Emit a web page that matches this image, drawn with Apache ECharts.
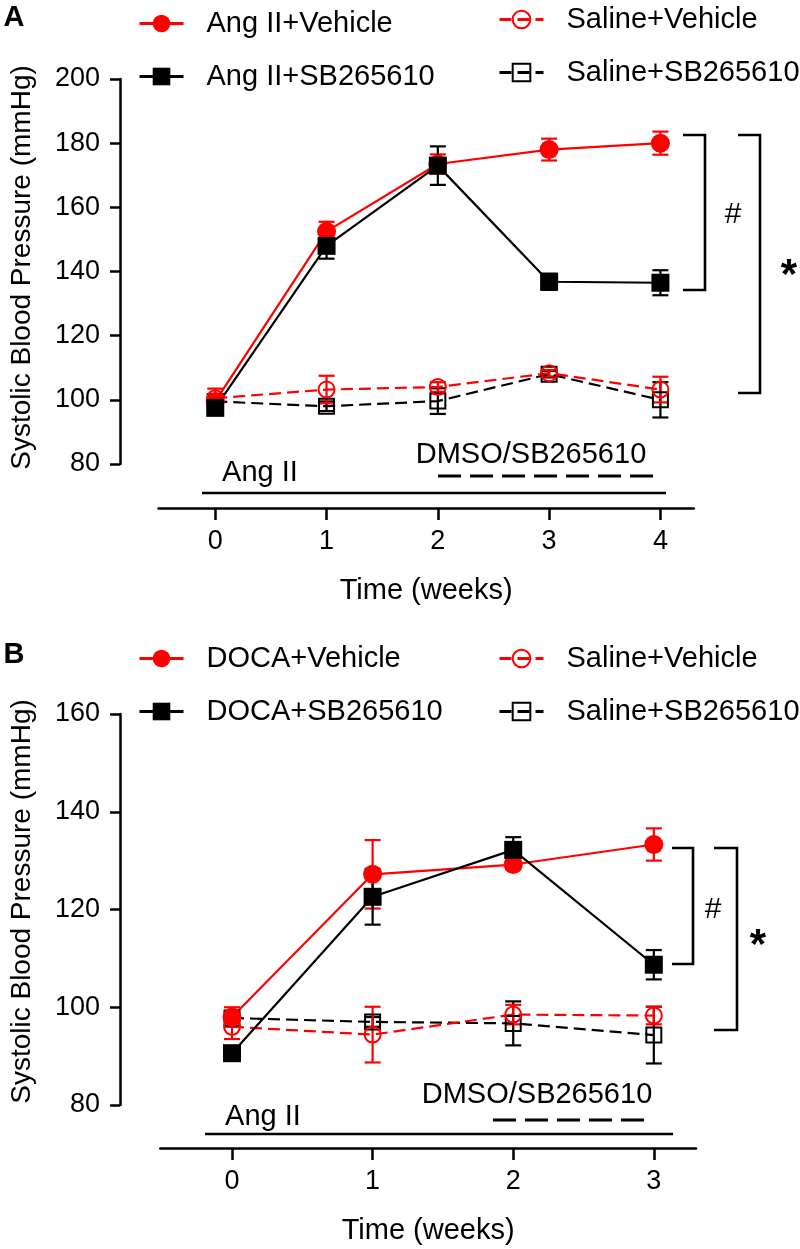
<!DOCTYPE html>
<html><head><meta charset="utf-8">
<script src="https://cdn.jsdelivr.net/npm/echarts@6/dist/echarts.min.js"></script>
<style>html,body{margin:0;padding:0;background:#fff}#c{width:800px;height:1249px}</style>
</head><body><div id="c"></div>
<script>
// ---------- Panel A data (Ang II model) ----------
const weeksA = [0, 1, 2, 3, 4];
const angVehA = [99.5, 152.5, 173.5, 178, 180];
const angVehErrA = [2, 3, 3, 3.4, 3.6];
const angSbA = [97.5, 148, 173, 136.8, 136.5];
const angSbErrA = [2, 4, 6, 2.5, 3.9];
const salVehA = [100.5, 103.2, 104, 108.3, 103.2];
const salVehErrA = [3, 4.3, 1.5, 1, 4];
const salSbA = [99.5, 98, 99.6, 108, 100];
const salSbErrA = [1.5, 1.5, 4, 1, 5.5];
const yTicksA = [80, 100, 120, 140, 160, 180, 200];

// ---------- Panel B data (DOCA model) ----------
const weeksB = [0, 1, 2, 3];
const docaVehB = [98, 127.2, 129.2, 133.3];
const docaVehErrB = [2, 7, 1, 3.3];
const docaSbB = [90.6, 122.6, 132.2, 108.7];
const docaSbErrB = [1, 5.7, 2.6, 3];
const salVehB = [96, 94.4, 98.5, 98.3];
const salVehErrB = [2.5, 5.7, 2, 1.8];
const salSbB = [97.8, 97, 96.7, 94.3];
const salSbErrB = [1, 1, 4.5, 5.8];
const yTicksB = [80, 100, 120, 140, 160];

const FONT = "'Liberation Sans', Arial, Helvetica, sans-serif";
const RED = '#ff0000', BLACK = '#000000';

function lineSeries(name, weeks, vals, idx, color, filled, symbol, size, dashed) {
  return {
    type: 'line', name: name, xAxisIndex: idx, yAxisIndex: idx,
    data: weeks.map((w, i) => [w, vals[i]]),
    symbol: symbol, symbolSize: size, z: 5,
    lineStyle: { color: color, width: 2.2, type: dashed ? [12, 6] : 'solid' },
    itemStyle: { color: filled ? color : 'rgba(255,255,255,0)', borderColor: color, borderWidth: filled ? 0 : 2 },
    emphasis: { disabled: true }, silent: true
  };
}
function errSeries(weeks, vals, errs, idx, color) {
  return {
    type: 'custom', xAxisIndex: idx, yAxisIndex: idx, z: 3, silent: true,
    data: weeks.map((w, i) => [w, vals[i] - errs[i], vals[i] + errs[i]]),
    encode: { x: 0, y: [1, 2] },
    renderItem: function (params, api) {
      const x = api.value(0);
      const lo = api.coord([x, api.value(1)]);
      const hi = api.coord([x, api.value(2)]);
      const w = 8;
      const st = { stroke: color, lineWidth: 2.2 };
      return { type: 'group', children: [
        { type: 'line', shape: { x1: lo[0], y1: lo[1], x2: hi[0], y2: hi[1] }, style: st },
        { type: 'line', shape: { x1: lo[0] - w, y1: lo[1], x2: lo[0] + w, y2: lo[1] }, style: st },
        { type: 'line', shape: { x1: hi[0] - w, y1: hi[1], x2: hi[0] + w, y2: hi[1] }, style: st }
      ]};
    }
  };
}

function xAxis(idx, weeks, min, max, offset) {
  return {
    gridIndex: idx, type: 'value', min: min, max: max, offset: offset,
    axisLine: { show: true, onZero: false, lineStyle: { color: '#000', width: 2.5 } },
    axisTick: { show: true, length: 12, lineStyle: { color: '#000', width: 2.5 }, customValues: weeks },
    axisLabel: { customValues: weeks, fontSize: 27, color: '#000', margin: 20, fontFamily: FONT },
    splitLine: { show: false },
    name: 'Time (weeks)', nameLocation: 'middle', nameGap: 68,
    nameTextStyle: { fontSize: 29, color: '#000', fontFamily: FONT }
  };
}
function yAxis(idx, ticks, offset, shift) {
  return {
    gridIndex: idx, type: 'value', min: ticks[0], max: ticks[ticks.length - 1], interval: 20, offset: offset,
    axisLine: { show: true, onZero: false, lineStyle: { color: '#000', width: 2.5 } },
    axisTick: { show: true, length: 10, lineStyle: { color: '#000', width: 2.5 } },
    axisLabel: { fontSize: 27, color: '#000', margin: 20, fontFamily: FONT },
    splitLine: { show: false },
    name: 'Systolic Blood Pressure (mmHg)', nameLocation: 'middle', nameGap: 84,
    nameTextStyle: { fontSize: 28, color: '#000', fontFamily: FONT, padding: [0, 0, 0, shift] }
  };
}

function legend(names, left, top) {
  return {
    data: names, orient: 'vertical', left: left, top: top,
    itemWidth: 44, itemHeight: 22, itemGap: 24, selectedMode: false,
    lineStyle: { width: 3 },
    textStyle: { fontSize: 29, color: '#000', fontFamily: FONT, padding: [0, 0, 0, 18] }
  };
}

function txt(s, x, y, size, bold) {
  return { type: 'text', x: x, y: y, silent: true,
    style: { text: s, font: (bold ? 'bold ' : '') + size + 'px ' + FONT, fill: '#000',
      align: 'center', verticalAlign: 'middle', textAlign: 'center', textVerticalAlign: 'middle' } };
}
function pline(pts, dash) {
  return { type: 'polyline', silent: true, shape: { points: pts },
    style: { stroke: '#000', lineWidth: dash ? 3 : 2.6, fill: null, lineDash: dash || null } };
}

const chart = echarts.init(document.getElementById('c'), null, { renderer: 'canvas' });
chart.setOption({
  animation: false,
  backgroundColor: '#fff',
  textStyle: { fontFamily: FONT },
  grid: [
    { left: 151.5, width: 542.3, top: 79, height: 385 },
    { left: 153.3, width: 542.7, top: 714, height: 391 }
  ],
  xAxis: [xAxis(0, weeksA, -0.51, 4.3, 44), xAxis(1, weeksB, -0.51, 3.3, 43)],
  yAxis: [yAxis(0, yTicksA, 38.5, 8), yAxis(1, yTicksB, 40.3, 16)],
  legend: [
    legend(['Ang II+Vehicle', 'Ang II+SB265610'], 133, 4),
    legend(['Saline+Vehicle', 'Saline+SB265610'], 493, 0),
    legend(['DOCA+Vehicle', 'DOCA+SB265610'], 133, 639),
    legend(['Saline+Vehicle', 'Saline+SB265610'], 493, 639)
  ],
  series: [
    errSeries(weeksA, salSbA, salSbErrA, 0, BLACK),
    errSeries(weeksA, salVehA, salVehErrA, 0, RED),
    errSeries(weeksA, angVehA, angVehErrA, 0, RED),
    errSeries(weeksA, angSbA, angSbErrA, 0, BLACK),
    lineSeries('Saline+SB265610', weeksA, salSbA, 0, BLACK, false, 'rect', 15, true),
    lineSeries('Saline+Vehicle', weeksA, salVehA, 0, RED, false, 'circle', 16, true),
    lineSeries('Ang II+Vehicle', weeksA, angVehA, 0, RED, true, 'circle', 19, false),
    lineSeries('Ang II+SB265610', weeksA, angSbA, 0, BLACK, true, 'rect', 18, false),

    errSeries(weeksB, salSbB, salSbErrB, 1, BLACK),
    errSeries(weeksB, salVehB, salVehErrB, 1, RED),
    errSeries(weeksB, docaVehB, docaVehErrB, 1, RED),
    errSeries(weeksB, docaSbB, docaSbErrB, 1, BLACK),
    lineSeries('Saline+SB265610', weeksB, salSbB, 1, BLACK, false, 'rect', 15, true),
    lineSeries('Saline+Vehicle', weeksB, salVehB, 1, RED, false, 'circle', 16, true),
    lineSeries('DOCA+Vehicle', weeksB, docaVehB, 1, RED, true, 'circle', 19, false),
    lineSeries('DOCA+SB265610', weeksB, docaSbB, 1, BLACK, true, 'rect', 18, false)
  ],
  graphic: [
    txt('A', 14, 18, 29, true),
    txt('B', 14, 655, 29, true),
    // Panel A treatment bars
    txt('Ang II', 260, 473, 29),
    pline([[202, 493], [666, 493]]),
    txt('DMSO/SB265610', 531, 455, 29),
    pline([[438, 476], [662, 476]], [23, 9]),
    // Panel A significance brackets
    pline([[683, 135], [705, 135], [705, 290], [683, 290]]),
    txt('#', 733, 215, 30),
    pline([[738, 135], [760, 135], [760, 393], [738, 393]]),
    txt('*', 789, 276, 42, true),
    // Panel B treatment bars
    txt('Ang II', 263, 1117, 29),
    pline([[205, 1134], [673, 1134]]),
    txt('DMSO/SB265610', 537, 1095, 29),
    pline([[493, 1120], [653, 1120]], [23, 9]),
    // Panel B significance brackets
    pline([[672, 848], [693, 848], [693, 964], [672, 964]]),
    txt('#', 713, 910, 30),
    pline([[714, 848], [737, 848], [737, 1030], [714, 1030]]),
    txt('*', 758, 946, 42, true)
  ]
});
</script></body></html>
